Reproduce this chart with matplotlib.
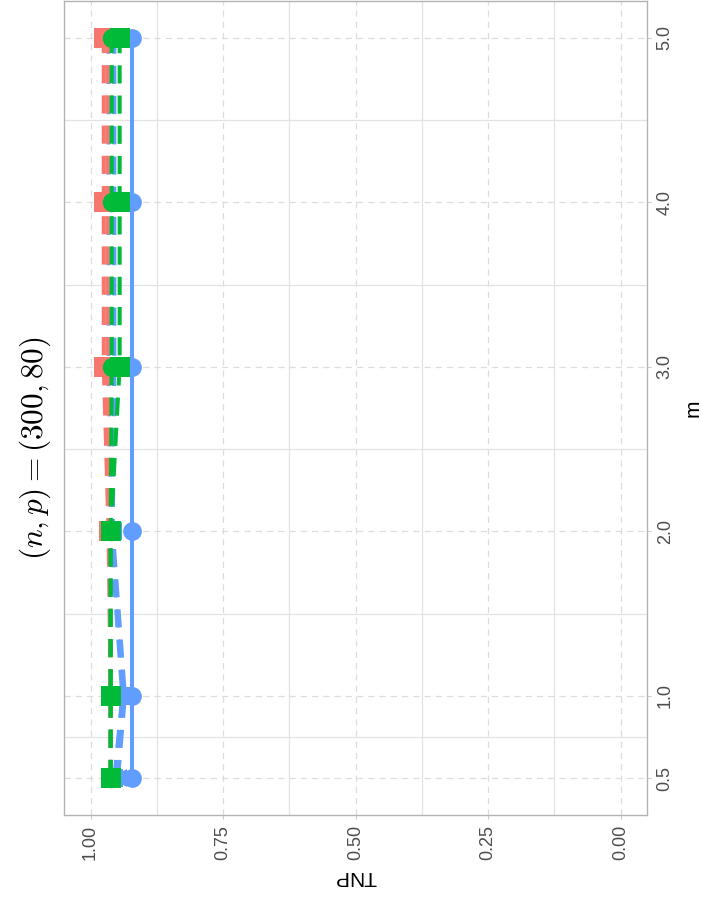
import matplotlib.pyplot as plt
from matplotlib.ticker import FixedLocator

m = [0.5, 1.0, 2.0, 3.0, 4.0, 5.0]

# TNP per method (colour) and variant (shape / linetype)
blue_circle = [0.922, 0.922, 0.922, 0.922, 0.922, 0.922]
blue_triangle = [0.948, 0.935, 0.958, 0.955, 0.955, 0.955]
blue_square = [0.955, 0.940, 0.962, 0.966, 0.966, 0.966]
red_square = [0.962, 0.962, 0.966, 0.975, 0.975, 0.975]
red_triangle = [0.962, 0.962, 0.962, 0.968, 0.968, 0.968]
green_circle = [0.962, 0.962, 0.962, 0.960, 0.960, 0.960]
green_square = [0.962, 0.962, 0.962, 0.945, 0.945, 0.945]

m_ticks = [0.5, 1.0, 2.0, 3.0, 4.0, 5.0]
m_minor = [0.75, 1.5, 2.5, 3.5, 4.5]
tnp_ticks = [0.0, 0.25, 0.5, 0.75, 1.0]
tnp_minor = [0.125, 0.375, 0.625, 0.875]

RED, GREEN, BLUE = '#F8766D', '#00BA38', '#619CFF'
DASH = (0, (4.5, 3))

series = [
    (blue_circle, BLUE, '-', 'o', 13.5),
    (blue_triangle, BLUE, DASH, '<', 13),
    (blue_square, BLUE, DASH, 's', 13),
    (red_triangle, RED, DASH, '<', 13),
    (red_square, RED, DASH, 's', 14),
    (green_circle, GREEN, DASH, 'o', 14),
    (green_square, GREEN, DASH, 's', 14),
]

plt.rcParams['font.family'] = ['Liberation Sans', 'DejaVu Sans']
plt.rcParams['mathtext.fontset'] = 'cm'

fig = plt.figure(figsize=(7.01, 9.13), dpi=100)
ax = fig.add_axes([64/701, 1 - 815/913, (647-64)/701, (815-1)/913])

# chart is drawn turned a quarter: TNP runs along x (reversed), m along y
for vals, col, ls, mk, ms in series:
    ax.plot(vals, m, color=col, linestyle=ls, linewidth=2.9, marker=mk,
            markersize=ms, markeredgewidth=0, zorder=3)

ax.set_xlim(1.05, -0.05)
ax.set_ylim(0.275, 5.225)

ax.xaxis.set_major_locator(FixedLocator(tnp_ticks))
ax.xaxis.set_minor_locator(FixedLocator(tnp_minor))
ax.yaxis.set_major_locator(FixedLocator(m_ticks))
ax.yaxis.set_minor_locator(FixedLocator(m_minor))
ax.set_xticklabels(['0.00', '0.25', '0.50', '0.75', '1.00'])
ax.set_yticklabels(['0.5', '1.0', '2.0', '3.0', '4.0', '5.0'])

ax.grid(which='major', color='#DDDDDD', linestyle=(0, (5, 4)), linewidth=0.9)
ax.grid(which='minor', color='#E3E3E3', linestyle='-', linewidth=0.9)
ax.set_axisbelow(True)

ax.yaxis.tick_right()
ax.yaxis.set_label_position('right')
ax.tick_params(which='major', length=3, color='#CCCCCC', labelcolor='#4D4D4D',
               labelsize=13)
ax.tick_params(which='minor', length=0)
ax.tick_params(axis='x', labelrotation=90, pad=4)
ax.tick_params(axis='y', labelrotation=90, pad=4)
for lab in ax.get_yticklabels():
    lab.set_va('center')

for s in ax.spines.values():
    s.set_color('#B3B3B3')
    s.set_linewidth(1.0)

ax.set_xlabel('TNP', fontsize=15, rotation=180, labelpad=5)
ax.set_ylabel('m', fontsize=15, rotation=90, labelpad=7)

fig.text(35/701, 1 - 448/913, r'$(n,p)=(300,80)$', rotation=90,
         ha='center', va='center', fontsize=22.5)

fig.savefig('out.png', dpi=100)
